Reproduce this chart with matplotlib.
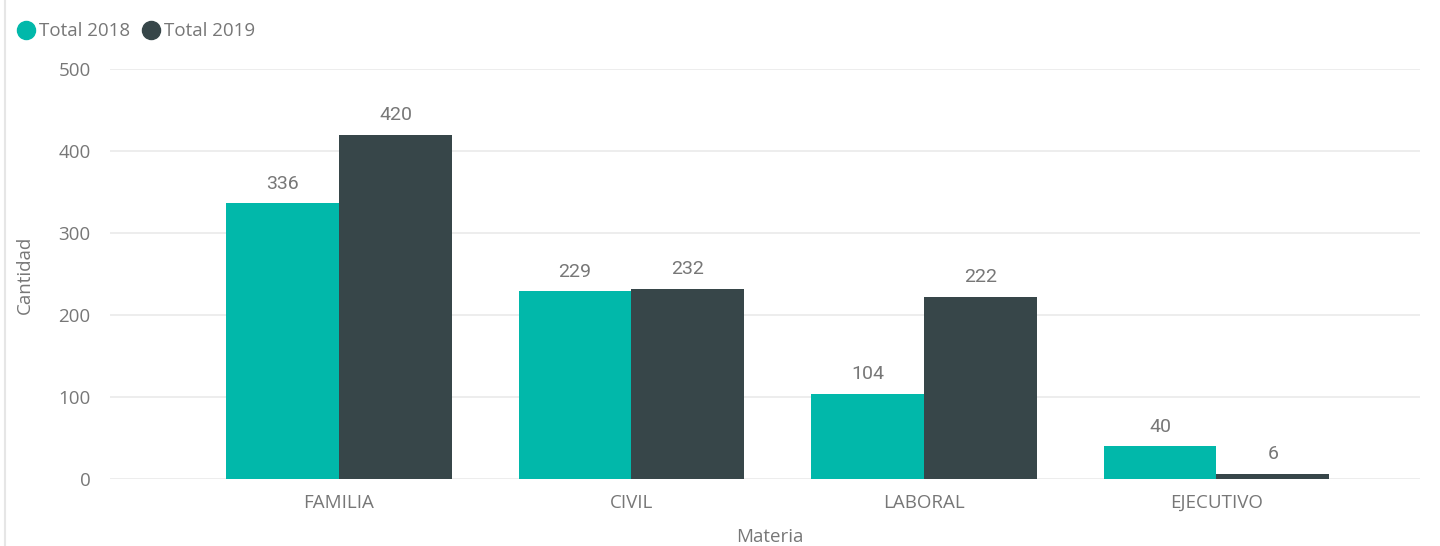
import numpy as np
from matplotlib import pyplot as plt
from matplotlib.lines import Line2D

categories = ['FAMILIA', 'CIVIL', 'LABORAL', 'EJECUTIVO']
total_2018 = [336, 229, 104, 40]
total_2019 = [420, 232, 222, 6]
series_names = ['Total 2018', 'Total 2019']
y_ticks = [0, 100, 200, 300, 400, 500]

c18 = '#01B8AA'
c19 = '#374649'
grey = '#777777'

plt.rcParams['font.family'] = ['Open Sans', 'DejaVu Sans']

fig = plt.figure(figsize=(14.4, 5.46), dpi=100)
ax = fig.add_axes([110/1440, 67/546, 1310/1440, 410/546])

x = np.arange(len(categories))
w = 0.386
ax.bar(x - w/2, total_2018, width=w, color=c18, zorder=3)
ax.bar(x + w/2, total_2019, width=w, color=c19, zorder=3)

for xi, v in zip(x - w/2, total_2018):
    ax.text(xi, v + 13, str(v), ha='center', va='bottom', color=grey,
            fontsize=14, family=['Roboto', 'DejaVu Sans'])
for xi, v in zip(x + w/2, total_2019):
    ax.text(xi, v + 13, str(v), ha='center', va='bottom', color=grey,
            fontsize=14, family=['Roboto', 'DejaVu Sans'])

ax.set_xlim(-0.783, 3.696)
ax.set_ylim(0, 500)
ax.set_yticks(y_ticks)
ax.set_xticks(x)
ax.set_xticklabels(categories)
ax.grid(axis='y', color='#EAEAEA', linewidth=1.2, zorder=0)
ax.tick_params(axis='both', length=0, colors=grey, labelsize=13.5)
ax.tick_params(axis='y', pad=14)
ax.tick_params(axis='x', pad=11)
for s in ax.spines.values():
    s.set_visible(False)

fig.text(770/1440, 1 - 537/546, 'Materia', ha='center', va='center',
         color=grey, fontsize=13.5)
fig.text(25/1440, 1 - 275/546, 'Cantidad', ha='center', va='center',
         rotation=90, color=grey, fontsize=13.5)

handles = [Line2D([], [], marker='o', linestyle='', markersize=13, color=c18),
           Line2D([], [], marker='o', linestyle='', markersize=13, color=c19)]
fig.legend(handles, series_names, loc='upper left', bbox_to_anchor=(0.0, 0.99),
           frameon=False, handletextpad=0.2, columnspacing=0.6, ncol=2,
           fontsize=13.5, labelcolor=grey, handlelength=1.0)

fig.add_artist(Line2D([5/1440, 5/1440], [0, 1], color='#E6E6E6', linewidth=1.5))

plt.savefig('out.png', dpi=100)
